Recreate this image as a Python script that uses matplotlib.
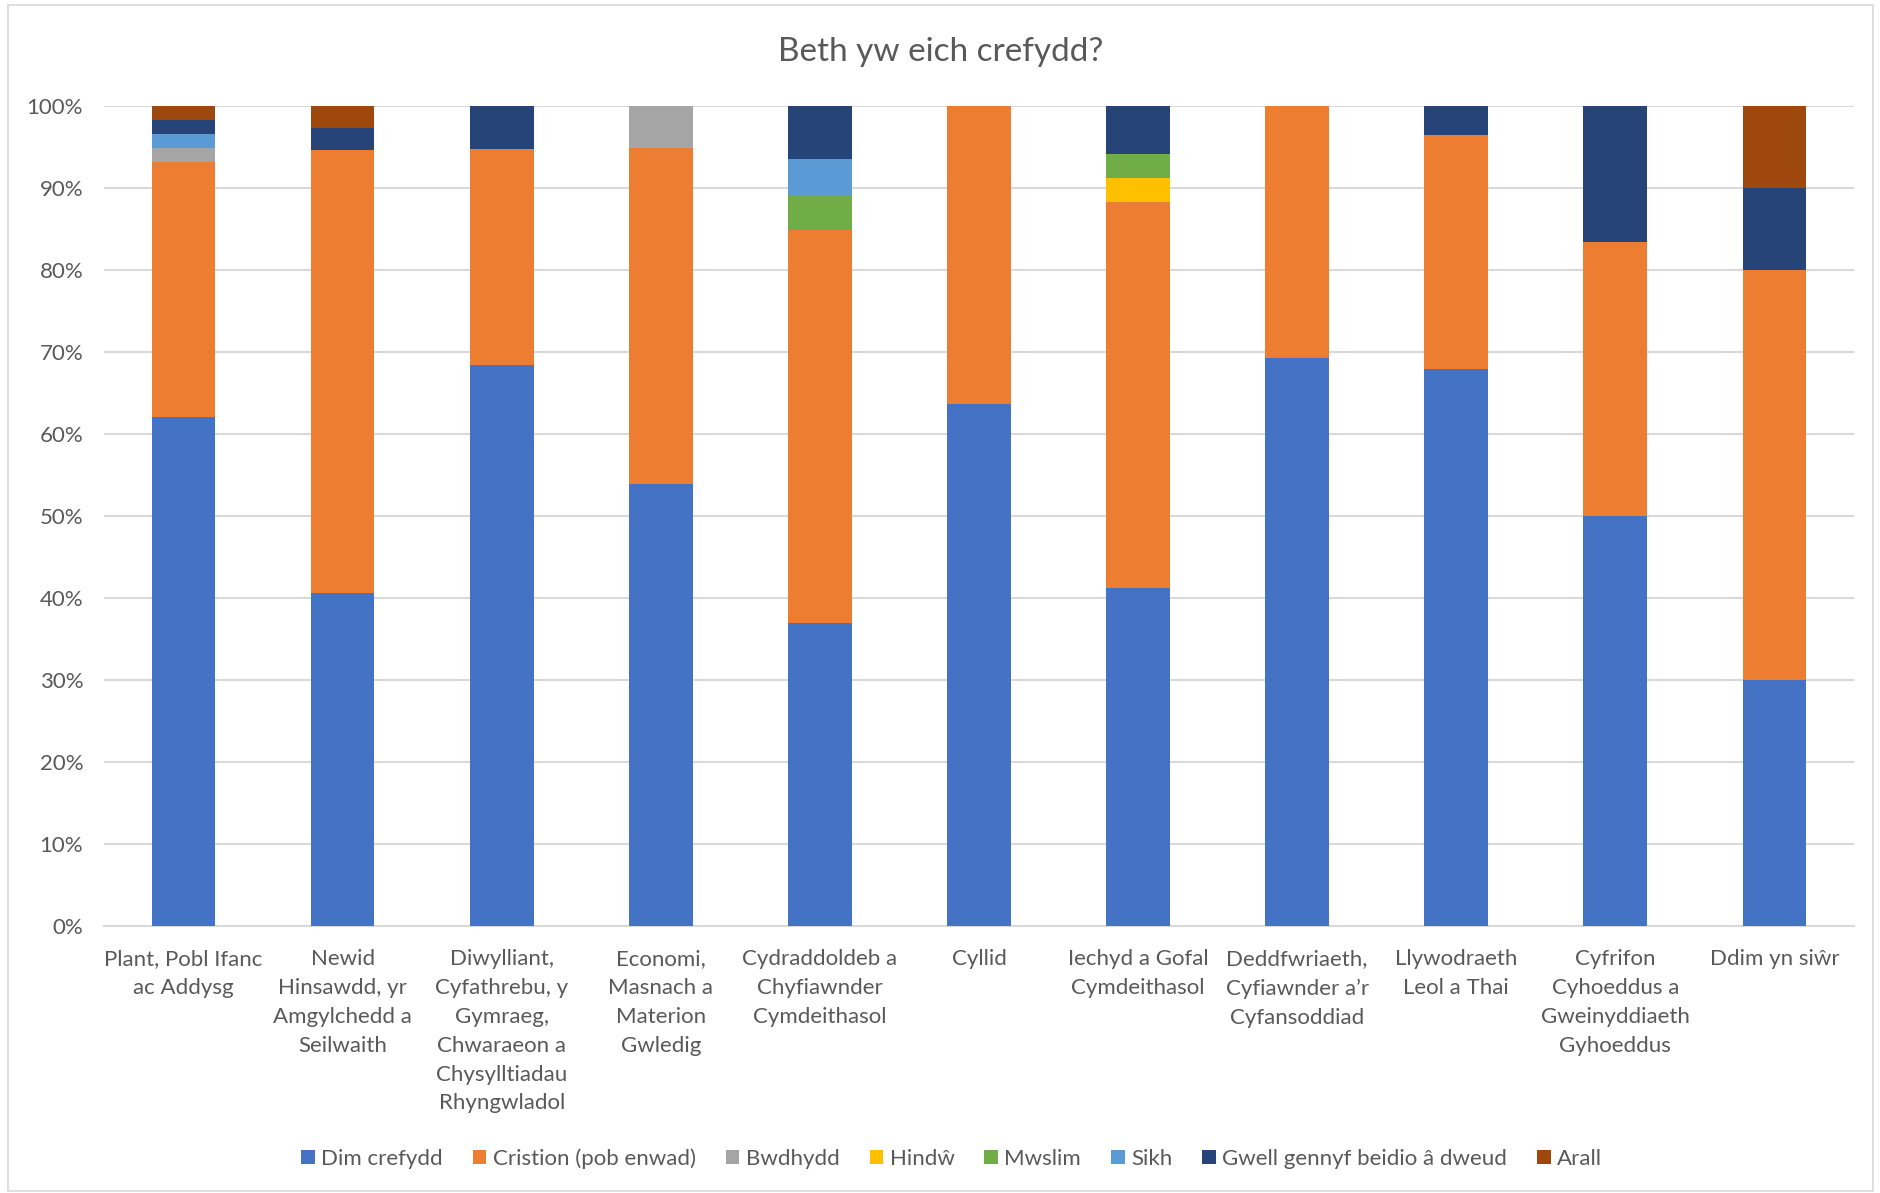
import matplotlib
matplotlib.use("Agg")
import matplotlib.pyplot as plt
from matplotlib.patches import Rectangle
from matplotlib.ticker import PercentFormatter, MultipleLocator
import numpy as np

categories = [
    "Plant, Pobl Ifanc\nac Addysg",
    "Newid\nHinsawdd, yr\nAmgylchedd a\nSeilwaith",
    "Diwylliant,\nCyfathrebu, y\nGymraeg,\nChwaraeon a\nChysylltiadau\nRhyngwladol",
    "Economi,\nMasnach a\nMaterion\nGwledig",
    "Cydraddoldeb a\nChyfiawnder\nCymdeithasol",
    "Cyllid",
    "Iechyd a Gofal\nCymdeithasol",
    "Deddfwriaeth,\nCyfiawnder a\u2019r\nCyfansoddiad",
    "Llywodraeth\nLeol a Thai",
    "Cyfrifon\nCyhoeddus a\nGweinyddiaeth\nGyhoeddus",
    "Ddim yn si\u0175r",
]

series_names = ["Dim crefydd", "Cristion (pob enwad)", "Bwdhydd", "Hind\u0175",
                "Mwslim", "Sikh", "Gwell gennyf beidio \u00e2 dweud", "Arall"]

dim_crefydd = [62.07, 40.54, 68.42, 53.85, 36.96, 63.64, 41.18, 69.23, 67.86, 50.0, 30.0]
cristion    = [31.03, 54.05, 26.32, 41.03, 47.83, 36.36, 47.06, 30.77, 28.57, 33.33, 50.0]
bwdhydd     = [1.72, 0, 0, 5.13, 0, 0, 0, 0, 0, 0, 0]
hindw       = [0, 0, 0, 0, 0, 0, 2.94, 0, 0, 0, 0]
mwslim      = [0, 0, 0, 0, 4.35, 0, 2.94, 0, 0, 0, 0]
sikh        = [1.72, 0, 0, 0, 4.35, 0, 0, 0, 0, 0, 0]
gwell       = [1.72, 2.70, 5.26, 0, 6.52, 0, 5.88, 0, 3.57, 16.67, 10.0]
arall       = [1.72, 2.70, 0, 0, 0, 0, 0, 0, 0, 0, 10.0]

series = [dim_crefydd, cristion, bwdhydd, hindw, mwslim, sikh, gwell, arall]
colors = ["#4472C4", "#ED7D31", "#A5A5A5", "#FFC000", "#70AD47", "#5B9BD5", "#264478", "#9E480E"]

plt.rcParams['font.family'] = ['Lato', 'DejaVu Sans']
txt = "#595959"

fig = plt.figure(figsize=(18.81, 11.93), dpi=100)
ax = fig.add_axes([0.0553, 0.224, 0.9303, 0.6874])

x = np.arange(len(categories))
bottom = np.zeros(len(categories))
for vals, name, c in zip(series, series_names, colors):
    v = np.array(vals, dtype=float)
    ax.bar(x, v, 0.4, bottom=bottom, color=c, label=name, zorder=3)
    bottom += v

ax.set_xlim(-0.5, len(categories) - 0.5)
ax.set_ylim(0, 100)
ax.yaxis.set_major_locator(MultipleLocator(10))
ax.yaxis.set_major_formatter(PercentFormatter(decimals=0))
ax.grid(axis='y', color='#D9D9D9', linewidth=1.5, zorder=0)
for s in ['top', 'right', 'left']:
    ax.spines[s].set_visible(False)
ax.spines['bottom'].set_color('#D9D9D9')
ax.spines['bottom'].set_linewidth(1.5)
ax.tick_params(axis='both', length=0, colors=txt, labelsize=16)
ax.tick_params(axis='y', pad=15)
ax.tick_params(axis='x', pad=17)
ax.set_xticks(x)
ax.set_xticklabels(categories, linespacing=1.55, va='top', ha='center')

fig.text(0.5, 0.956, "Beth yw eich crefydd?", ha='center', va='center', fontsize=24, color=txt)

leg = fig.legend(loc='center', bbox_to_anchor=(0.506, 0.029), ncol=8, frameon=False,
                 fontsize=16, handlelength=0.6, handleheight=0.6, handletextpad=0.3,
                 columnspacing=1.35, labelcolor=txt)

fig.patches.append(Rectangle((0.004, 0.002), 0.992, 0.994, transform=fig.transFigure,
                             fill=False, edgecolor='#D9D9D9', linewidth=1.2))

fig.savefig("out.png", dpi=100, facecolor='white')
